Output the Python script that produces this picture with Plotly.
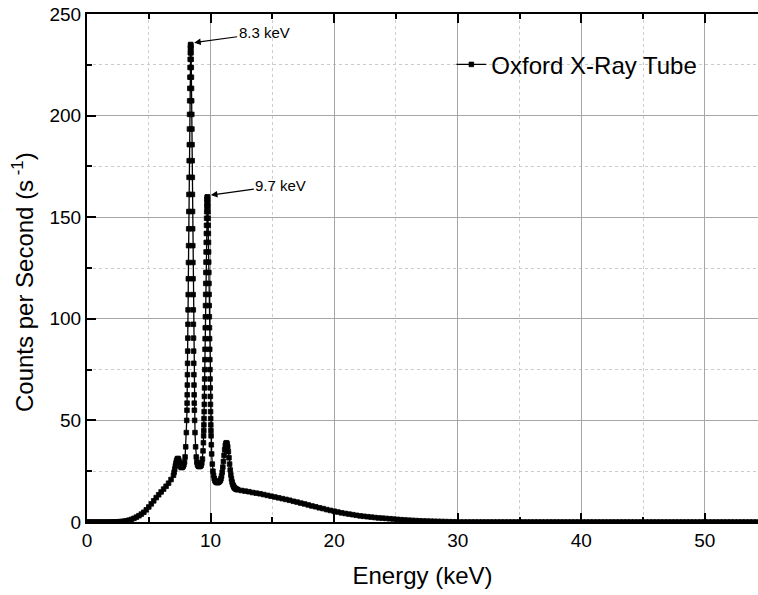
import plotly.graph_objects as go

# ---- data (energy in keV, counts per second) ----
energy_rise = [0.0, 0.2, 0.4, 0.6, 0.8, 1.0, 1.2, 1.4, 1.6, 1.8, 2.0, 2.2, 2.4, 2.6, 2.8, 3.0, 3.2, 3.4,
               3.6, 3.8, 4.0, 4.2, 4.4, 4.6, 4.8, 5.0, 5.2, 5.4, 5.6, 5.8, 6.0, 6.2, 6.4, 6.6, 6.8, 7.0]
counts_rise = [0, 0, 0, 0, 0, 0, 0, 0, 0, 0, 0.05, 0.05, 0.1, 0.15, 0.25, 0.4, 0.6, 0.9,
               1.3, 1.8, 2.4, 3.1, 3.9, 4.8, 6.0, 7.4, 8.9, 10.4, 12.0, 13.4, 14.8, 16.2, 17.6, 19.1, 20.9, 23.0]

energy_shoulder = [7.05, 7.10, 7.15, 7.20, 7.25, 7.30, 7.35, 7.40, 7.45, 7.50, 7.55, 7.60, 7.65, 7.70, 7.75]
counts_shoulder = [24.5, 26.0, 27.6, 29.0, 30.2, 31.0, 31.3, 31.0, 30.0, 28.8, 27.8, 27.1, 26.8, 26.9, 27.2]

energy_peak1 = [7.79, 7.84, 7.89, 7.94, 7.99, 8.04, 8.07, 8.09,
                8.10, 8.11, 8.12, 8.13, 8.14, 8.15, 8.16, 8.17, 8.18, 8.19,
                8.20, 8.21, 8.22, 8.23, 8.24, 8.25, 8.26, 8.27, 8.28, 8.29,
                8.30, 8.31, 8.32, 8.33, 8.34, 8.35, 8.36, 8.37, 8.38, 8.39,
                8.40, 8.41, 8.42, 8.43, 8.44, 8.45, 8.46, 8.47, 8.48, 8.49,
                8.50, 8.51, 8.52, 8.53, 8.54, 8.55, 8.56, 8.57, 8.58, 8.59,
                8.60, 8.61, 8.62, 8.63, 8.64, 8.65, 8.66, 8.67, 8.68, 8.69,
                8.71, 8.74, 8.79, 8.84, 8.89, 8.94, 8.99]
counts_peak1 = [27.6, 28.3, 29.5, 32.0, 37.0, 44.0, 50.0, 55.0,
                58.5, 62.6, 67.4, 72.5, 78.1, 84.1, 90.5, 97.3, 104.4, 111.9,
                119.7, 127.7, 136.0, 144.3, 152.8, 161.2, 169.6, 177.8, 185.7, 193.4,
                200.6, 207.3, 213.4, 218.9, 223.7, 227.7, 230.9, 233.2, 234.5, 235.0,
                234.5, 233.2, 230.9, 227.7, 223.7, 218.9, 213.4, 207.3, 200.6, 193.4,
                185.7, 177.8, 169.6, 161.2, 152.8, 144.3, 136.0, 127.7, 119.7, 111.9,
                104.4, 97.3, 90.5, 84.1, 78.1, 72.5, 67.4, 62.6, 58.5, 55.0,
                50.0, 44.0, 37.0, 32.0, 29.5, 28.3, 27.7]

energy_valley = [9.04, 9.09]
counts_valley = [27.4, 27.3]

energy_peak2 = [9.14, 9.19, 9.24, 9.29, 9.34, 9.39, 9.42, 9.44,
                9.45, 9.46, 9.47, 9.48, 9.49, 9.50, 9.51, 9.52, 9.53, 9.54,
                9.55, 9.56, 9.57, 9.58, 9.59, 9.60, 9.61, 9.62, 9.63, 9.64,
                9.65, 9.66, 9.67, 9.68, 9.69, 9.70, 9.71, 9.72, 9.73, 9.74,
                9.75, 9.76, 9.77, 9.78, 9.79, 9.80, 9.81, 9.82, 9.83, 9.84,
                9.85, 9.86, 9.87, 9.88, 9.89, 9.90, 9.91, 9.92, 9.93, 9.94,
                9.95, 9.96, 9.97, 9.98, 9.99, 10.00, 10.01, 10.02, 10.03, 10.04,
                10.06, 10.09, 10.14, 10.19, 10.24, 10.29, 10.34]
counts_peak2 = [27.4, 27.6, 28.0, 29.0, 31.0, 35.0, 39.0, 42.4,
                45.0, 47.8, 50.9, 54.3, 57.9, 61.8, 66.0, 70.4, 75.0, 79.9,
                85.0, 90.2, 95.6, 101.0, 106.5, 112.0, 117.4, 122.8, 127.9, 132.9,
                137.6, 142.0, 146.0, 149.5, 152.7, 155.3, 157.3, 158.8, 159.7, 160.0,
                159.7, 158.8, 157.3, 155.3, 152.7, 149.5, 146.0, 142.0, 137.6, 132.9,
                127.9, 122.8, 117.4, 112.0, 106.5, 101.0, 95.6, 90.2, 85.0, 79.9,
                75.0, 70.4, 66.0, 61.8, 57.9, 54.3, 50.9, 47.8, 45.0, 42.4,
                38.0, 33.5, 28.5, 25.0, 23.0, 21.5, 20.6]

energy_peak3 = [10.39, 10.44, 10.49, 10.54, 10.59, 10.64,
                10.69, 10.74, 10.79, 10.84, 10.89, 10.94, 10.99, 11.04, 11.09, 11.14,
                11.19, 11.24, 11.29, 11.34, 11.39, 11.44, 11.49, 11.54, 11.59, 11.64,
                11.69, 11.74, 11.79, 11.84, 11.89, 11.94, 11.99, 12.04, 12.09, 12.14]
counts_peak3 = [20.0, 19.7, 19.5, 19.4, 19.4, 19.6,
                19.8, 20.1, 20.5, 21.3, 22.6, 24.5, 27.0, 29.8, 32.8, 35.5,
                37.6, 38.7, 39.0, 38.5, 37.0, 34.6, 31.6, 28.5, 25.6, 23.2,
                21.2, 19.7, 18.6, 17.8, 17.2, 16.8, 16.5, 16.3, 16.1, 16.0]

energy_tail = [12.2, 12.5, 12.8, 13.1, 13.4, 13.7, 14.0, 14.3, 14.6, 14.9,
               15.2, 15.5, 15.8, 16.1, 16.4, 16.7, 17.0, 17.3, 17.6, 17.9,
               18.2, 18.5, 18.8, 19.1, 19.4, 19.7, 20.0, 20.3, 20.6, 20.9,
               21.2, 21.5, 21.8, 22.1, 22.4, 22.7, 23.0, 23.3, 23.6, 23.9,
               24.2, 24.5, 24.8, 25.1, 25.4, 25.7, 26.0, 26.3, 26.6, 26.9,
               27.2, 27.5, 27.8, 28.1, 28.4, 28.7, 29.0, 29.3, 29.6, 29.9]
counts_tail = [15.9, 15.5, 15.2, 14.9, 14.5, 14.2, 13.9, 13.5, 13.1, 12.7,
               12.3, 11.9, 11.5, 11.1, 10.7, 10.2, 9.8, 9.3, 8.9, 8.4,
               7.9, 7.5, 7.0, 6.6, 6.1, 5.7, 5.3, 4.9, 4.5, 4.2,
               3.9, 3.6, 3.3, 3.0, 2.8, 2.6, 2.4, 2.2, 2.0, 1.9,
               1.75, 1.6, 1.45, 1.3, 1.15, 1.0, 0.9, 0.8, 0.7, 0.6,
               0.5, 0.45, 0.4, 0.35, 0.3, 0.25, 0.2, 0.15, 0.1, 0.05]

energy_flat = [30.2, 30.5, 30.8, 31.1, 31.4, 31.7, 32.0, 32.3, 32.6, 32.9,
               33.2, 33.5, 33.8, 34.1, 34.4, 34.7, 35.0, 35.3, 35.6, 35.9,
               36.2, 36.5, 36.8, 37.1, 37.4, 37.7, 38.0, 38.3, 38.6, 38.9,
               39.2, 39.5, 39.8, 40.1, 40.4, 40.7, 41.0, 41.3, 41.6, 41.9,
               42.2, 42.5, 42.8, 43.1, 43.4, 43.7, 44.0, 44.3, 44.6, 44.9,
               45.2, 45.5, 45.8, 46.1, 46.4, 46.7, 47.0, 47.3, 47.6, 47.9,
               48.2, 48.5, 48.8, 49.1, 49.4, 49.7, 50.0, 50.3, 50.6, 50.9,
               51.2, 51.5, 51.8, 52.1, 52.4, 52.7, 53.0, 53.3, 53.6, 53.9,
               54.2, 54.5]
counts_flat = [0, 0, 0, 0, 0, 0, 0, 0, 0, 0,
               0, 0, 0, 0, 0, 0, 0, 0, 0, 0,
               0, 0, 0, 0, 0, 0, 0, 0, 0, 0,
               0, 0, 0, 0, 0, 0, 0, 0, 0, 0,
               0, 0, 0, 0, 0, 0, 0, 0, 0, 0,
               0, 0, 0, 0, 0, 0, 0, 0, 0, 0,
               0, 0, 0, 0, 0, 0, 0, 0, 0, 0,
               0, 0, 0, 0, 0, 0, 0, 0, 0, 0,
               0, 0]

peak_labels = ["8.3 keV", "9.7 keV"]
series_name = "Oxford X-Ray Tube"

energy = (energy_rise + energy_shoulder + energy_peak1 + energy_valley + energy_peak2
          + energy_peak3 + energy_tail + energy_flat)
counts = (counts_rise + counts_shoulder + counts_peak1 + counts_valley + counts_peak2
          + counts_peak3 + counts_tail + counts_flat)

FONT = "Liberation Sans, Arial, sans-serif"

fig = go.Figure()
fig.add_trace(go.Scatter(
    x=energy, y=counts, mode="lines+markers", name=series_name,
    line=dict(color="black", width=1.3),
    marker=dict(symbol="square", size=4.6, color="black", line=dict(width=0.8, color="black")),
))

# arrows to the two main peaks (position taken from the data maxima)
p1 = counts_peak1.index(max(counts_peak1))
p2 = counts_peak2.index(max(counts_peak2))
peaks = [(energy_peak1[p1], counts_peak1[p1]), (energy_peak2[p2], counts_peak2[p2])]
annotations = []
for (px, py), lab in zip(peaks, peak_labels):
    annotations.append(dict(
        x=px, y=py, xref="x", yref="y", text=lab, showarrow=True,
        ax=72, ay=-10, arrowhead=2, arrowsize=1.1, arrowwidth=1.2, arrowcolor="black",
        standoff=2, xshift=1.5, yshift=1.5,
        font=dict(family=FONT, size=15, color="black"),
    ))

annotations.append(dict(
    text="Counts per Second (s<sup> -1</sup>)", xref="paper", yref="paper",
    x=-0.0954, y=0.4724, xanchor="center", yanchor="middle", textangle=-90,
    showarrow=False, font=dict(family=FONT, size=24, color="black"),
))

axis_common = dict(
    showline=True, linewidth=2, linecolor="black",
    ticks="inside", ticklen=9, tickwidth=1.5, tickcolor="black",
    showgrid=True, gridcolor="#a6a6a6", gridwidth=1,
    zeroline=False,
    tickfont=dict(family=FONT, size=19, color="black"),
)

fig.update_layout(
    width=758, height=595,
    margin=dict(l=87, r=0, t=14, b=73),
    paper_bgcolor="white", plot_bgcolor="white",
    font=dict(family=FONT, color="black"),
    showlegend=True,
    legend=dict(
        x=0.543, y=0.900, xanchor="left", yanchor="middle",
        bgcolor="rgba(0,0,0,0)", borderwidth=0,
        font=dict(family=FONT, size=24, color="black"),
    ),
    xaxis=dict(
        range=[0, 54.3], tick0=0, dtick=10, mirror="ticks",
        minor=dict(dtick=5, ticks="inside", ticklen=5, tickwidth=1.5, tickcolor="black",
                   showgrid=True, gridcolor="#cccccc", griddash="3px,3px", gridwidth=1),
        title=dict(text="Energy (keV)", font=dict(family=FONT, size=24, color="black"), standoff=17),
        **axis_common,
    ),
    yaxis=dict(
        range=[0, 250], tick0=0, dtick=50, mirror=False,
        minor=dict(dtick=25, ticks="inside", ticklen=5, tickwidth=1.5, tickcolor="black",
                   showgrid=True, gridcolor="#cccccc", griddash="3px,3px", gridwidth=1),
        **axis_common,
    ),
    annotations=annotations,
)

fig.write_html("out.html")
